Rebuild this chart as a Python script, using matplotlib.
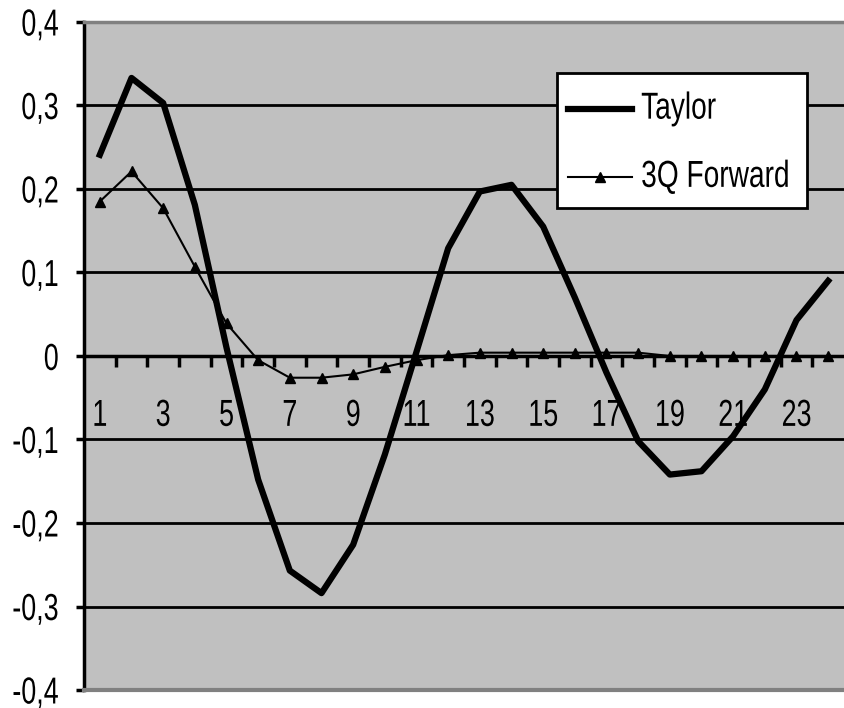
import numpy as np
import matplotlib.pyplot as plt
from matplotlib.ticker import FixedLocator, FuncFormatter
from matplotlib.patheffects import AbstractPathEffect
from matplotlib.transforms import Affine2D
from matplotlib.patches import Rectangle

plt.rcParams['font.family'] = ['Liberation Sans', 'DejaVu Sans']

# data
periods = list(range(1, 25))
taylor = [0.241, 0.333, 0.303, 0.181, 0.01, -0.148, -0.257, -0.284, -0.226, -0.118,
          0.005, 0.129, 0.197, 0.205, 0.155, 0.07, -0.02, -0.102, -0.142, -0.138,
          -0.096, -0.04, 0.043, 0.09]
forward_3q = [0.185, 0.221, 0.177, 0.107, 0.039, -0.005, -0.026, -0.026, -0.022, -0.013,
              -0.005, 0.001, 0.004, 0.004, 0.004, 0.004, 0.004, 0.004, 0.0, 0.0,
              0.0, 0.0, 0.0, 0.0]
y_ticks = [-0.4, -0.3, -0.2, -0.1, 0.0, 0.1, 0.2, 0.3, 0.4]
x_labels = list(range(1, 25, 2))
series_names = ['Taylor', '3Q Forward']


class Narrow(AbstractPathEffect):
    """squeeze/stretch glyphs (the original uses a tall narrow font)"""
    def __init__(self, sx=0.88, sy=1.23, anchor='left'):
        super().__init__()
        self.sx = sx
        self.sy = sy
        self.anchor = anchor

    def draw_path(self, renderer, gc, tpath, affine, rgbFace=None):
        ext = tpath.get_extents()
        cx = {'left': ext.x0, 'right': ext.x1, 'center': (ext.x0 + ext.x1) / 2}[self.anchor]
        cy = (ext.y0 + ext.y1) / 2
        t = (Affine2D().translate(-cx, -cy).scale(self.sx, self.sy).translate(cx, cy)
             + affine)
        renderer.draw_path(gc, tpath, t, rgbFace)


fs = 22

fig = plt.figure(figsize=(8.44, 7.08), dpi=100)
ax = fig.add_axes([84 / 844, 1 - 690 / 708, 760 / 844, 668 / 708])
ax.set_facecolor('#c0c0c0')

ax.set_xlim(0.5, 24.5)
ax.set_ylim(-0.4, 0.4)

# horizontal gridlines
for v in y_ticks[1:-1]:
    ax.axhline(v, color='black', lw=2, zorder=1)

l_taylor, = ax.plot(periods, taylor, color='black', lw=4.5, label=series_names[0], zorder=3)
l_fwd, = ax.plot(periods, forward_3q, color='black', lw=1.5, marker='^', markersize=7,
                 label=series_names[1], zorder=4)

# x axis sits on zero
ax.spines['bottom'].set_position(('data', 0))
ax.spines['bottom'].set_linewidth(2.5)
ax.spines['left'].set_linewidth(2.5)
ax.spines['top'].set_color('#808080')
ax.spines['top'].set_linewidth(2.5)
ax.spines['right'].set_visible(False)
ax.axhline(-0.4, color='#808080', lw=3, zorder=5, clip_on=False)

ax.xaxis.set_major_locator(FixedLocator(x_labels))
ax.xaxis.set_minor_locator(FixedLocator(np.arange(1.5, 24.5, 1)))
ax.tick_params(axis='x', which='major', length=0, pad=32, labelsize=fs)
ax.tick_params(axis='x', which='minor', length=8, width=2.5, direction='out')

ax.yaxis.set_major_locator(FixedLocator(y_ticks))
ax.yaxis.set_major_formatter(FuncFormatter(lambda v, p: '0' if abs(v) < 1e-9 else ('%.1f' % v).replace('.', ',')))
ax.tick_params(axis='y', length=6, width=2.5, pad=12, labelsize=fs)

for lab in ax.get_xticklabels():
    lab.set_path_effects([Narrow(0.88, 1.23, 'center')])
for lab in ax.get_yticklabels():
    lab.set_path_effects([Narrow(0.88, 1.23, 'right')])

# legend box drawn by hand so the squeezed text fits
ax.add_patch(Rectangle((0.622, 0.722), 0.329, 0.202, transform=ax.transAxes,
                       facecolor='white', edgecolor='black', lw=2, zorder=6))
for line, yy in zip([l_taylor, l_fwd], [0.870, 0.768]):
    ax.plot([0.637, 0.721], [yy, yy], transform=ax.transAxes, color='black',
            lw=line.get_linewidth(), zorder=7, clip_on=False)
    if line.get_marker() not in (None, 'None', ''):
        ax.plot([0.679], [yy], transform=ax.transAxes, color='black', marker='^',
                markersize=7, zorder=7, clip_on=False)
    ax.text(0.733, yy, line.get_label(), transform=ax.transAxes, fontsize=fs,
            ha='left', va='center', zorder=8, path_effects=[Narrow(0.92, 1.23, 'left')])

fig.savefig('out.png', dpi=100)
